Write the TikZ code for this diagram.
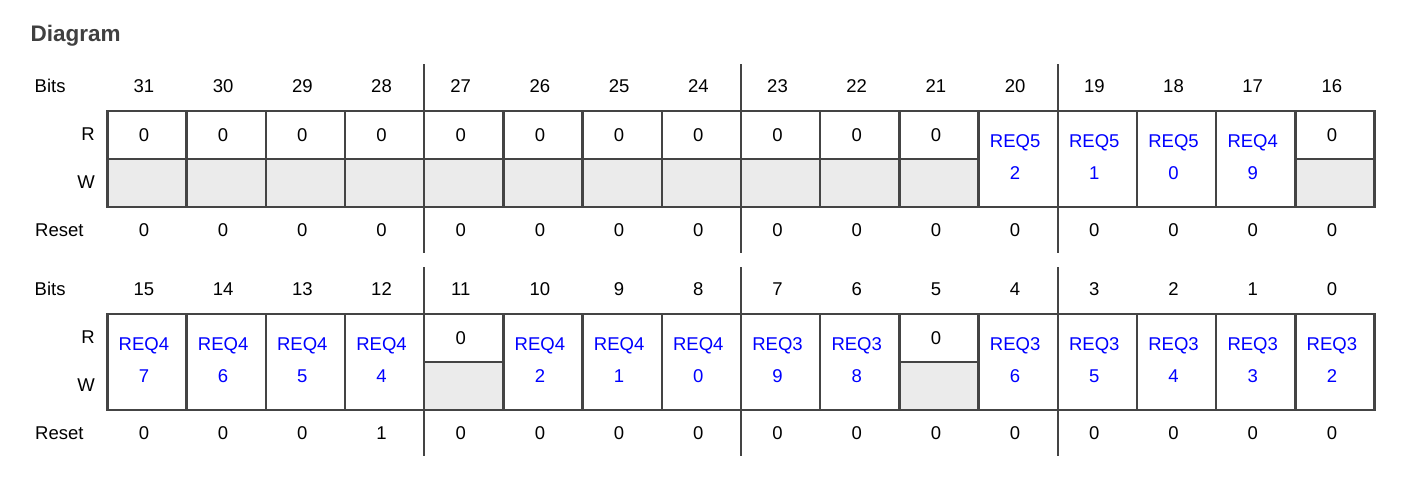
\documentclass[tikz,border=0pt]{standalone}
\usepackage{fontspec}
\setmainfont{Liberation Sans}
\definecolor{ln}{HTML}{444444}
\definecolor{gr}{HTML}{EBEBEB}
\definecolor{bl}{HTML}{0000FF}
\definecolor{tt}{HTML}{404040}
\begin{document}
\begin{tikzpicture}[x=1pt,y=-1pt,
  txt/.style={inner sep=0pt, text height=13.25pt, text depth=0pt, font=\fontsize{18.5}{22}\selectfont},
  req/.style={txt, text=bl},
  halfcell/.style={draw=ln, line width=2.4pt, minimum width=79.2pt, minimum height=48pt, inner sep=0pt},
  graycell/.style={halfcell, fill=gr},
  fullcell/.style={draw=ln, line width=2.4pt, minimum width=79.2pt, minimum height=96pt, inner sep=0pt},
  sepline/.style={draw=ln, line width=2pt}]
\useasboundingbox (0,0) rectangle (1408,479);
\node[anchor=base west, inner sep=0pt, text=tt, font=\bfseries\fontsize{22.5}{26}\selectfont] (title) at (30.5,41.7) {Diagram};
% row labels
\foreach \r/\dy in {1/0,2/203}{
  \node[txt, anchor=west] (bits\r) at (34.5,86+\dy) {Bits};
  \node[txt, anchor=east] (rl\r) at (95,134+\dy) {R};
  \node[txt, anchor=east] (wl\r) at (95,181.5+\dy) {W};
  \node[txt, anchor=west] (reset\r) at (35,229.5+\dy) {Reset};
  \foreach \i in {0,...,15}{
    \pgfmathsetmacro\tx{143.9+79.2*\i}
    \pgfmathtruncatemacro\bit{(\r==1)*(31-\i)+(\r==2)*(15-\i)}
    \node[txt] (b\r c\i) at (\tx,86+\dy) {\bit};
  }
}
% row 1 zero cells
\foreach \i in {0,...,10,15}{
  \pgfmathsetmacro\cx{146.9+79.2*\i}
  \pgfmathsetmacro\tx{143.9+79.2*\i}
  \node[halfcell] (ra\i) at (\cx,135) {};
  \node[graycell] (wa\i) at (\cx,183) {};
  \node[txt] (za\i) at (\tx,134.5) {0};
}
\foreach \i/\a/\b in {11/REQ5/2,12/REQ5/1,13/REQ5/0,14/REQ4/9}{
  \pgfmathsetmacro\cx{146.9+79.2*\i}
  \pgfmathsetmacro\tx{143.9+79.2*\i}
  \node[fullcell] (fa\i) at (\cx,159) {};
  \node[req] (qa\i) at (\tx,141) {\a};
  \node[req] (na\i) at (\tx,173) {\b};
}
% row 2
\foreach \i in {4,10}{
  \pgfmathsetmacro\cx{146.9+79.2*\i}
  \pgfmathsetmacro\tx{143.9+79.2*\i}
  \node[halfcell] (rb\i) at (\cx,338) {};
  \node[graycell] (wb\i) at (\cx,386) {};
  \node[txt] (zb\i) at (\tx,337.5) {0};
}
\foreach \i/\a/\b in {0/REQ4/7,1/REQ4/6,2/REQ4/5,3/REQ4/4,5/REQ4/2,6/REQ4/1,7/REQ4/0,8/REQ3/9,9/REQ3/8,11/REQ3/6,12/REQ3/5,13/REQ3/4,14/REQ3/3,15/REQ3/2}{
  \pgfmathsetmacro\cx{146.9+79.2*\i}
  \pgfmathsetmacro\tx{143.9+79.2*\i}
  \node[fullcell] (fb\i) at (\cx,362) {};
  \node[req] (qb\i) at (\tx,344) {\a};
  \node[req] (nb\i) at (\tx,376) {\b};
}
% reset values
\foreach \i in {0,...,15}{
  \pgfmathsetmacro\tx{143.9+79.2*\i}
  \node[txt] (va\i) at (\tx,229.5) {0};
}
\foreach \i/\v in {0/0,1/0,2/0,3/1,4/0,5/0,6/0,7/0,8/0,9/0,10/0,11/0,12/0,13/0,14/0,15/0}{
  \pgfmathsetmacro\tx{143.9+79.2*\i}
  \node[txt] (vb\i) at (\tx,432.5) {\v};
}
% separators
\foreach \sx in {424.1,740.9,1057.7}{
  \draw[sepline] (\sx,64) -- (\sx,253);
  \draw[sepline] (\sx,267) -- (\sx,456);
}
\end{tikzpicture}
\end{document}
